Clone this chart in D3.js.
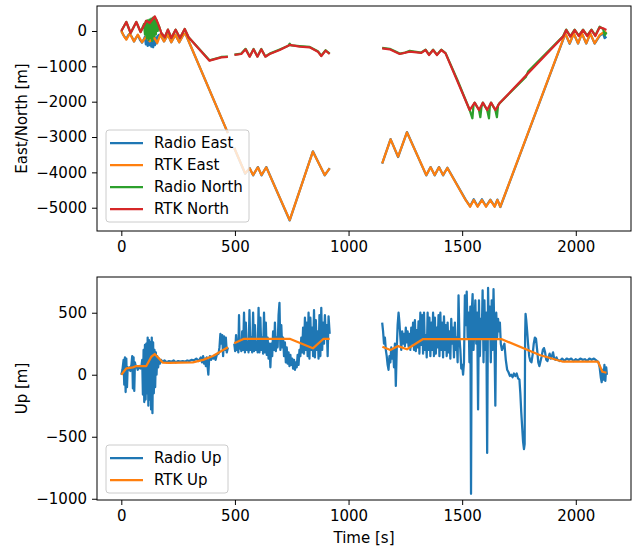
<!DOCTYPE html>
<html>
<head>
<meta charset="utf-8">
<script src="https://cdn.jsdelivr.net/npm/d3@7"></script>
<style>
body { margin: 0; background: #fff; }
svg { font-family: "DejaVu Sans", sans-serif; }
</style>
</head>
<body>
<div></div>
<script>
var width = 643;
var height = 549;

// time ticks and value ticks
var timeTicks = [0, 500, 1000, 1500, 2000];
var enTicks = [-5000, -4000, -3000, -2000, -1000, 0];
var upTicks = [-1000, -500, 0, 500];

// [time s, metres]; null = no data
var rtkEast = [[0,0],[12,-150],[22,-245],[37,-76],[56,-293],[73,-104],[91,-320],[110,-150],[125,-293],[144,-180],[158,-340],[172,-104],[188,-293],[205,-104],[220,-320],[238,-104],[255,-320],[273,-104],[282,-70],[469,-2890],null,
	[497,-3310],[545,-4030],[565,-3887],[580,-4075],[601,-3858],[617,-4075],[638,-3858],[741,-5349],[843,-3415],[895,-4075],[917,-3887],null,
	[1148,-3745],[1185,-3066],[1218,-3556],[1257,-2868],[1342,-4075],[1361,-3858],[1379,-4075],[1398,-3858],[1416,-4075],[1435,-3877],[1515,-4780],[1535,-4972],[1551,-4783],[1568,-4972],[1587,-4783],[1605,-4972],[1624,-4783],[1643,-4972],[1655,-4783],[1668,-4972],[1954,-66],[1973,-349],[1991,-66],[2010,-349],[2027,-66],[2046,-349],[2064,-66],[2083,-349],[2105,-113],[2127,-19],[2135,-60]];

var radioEast = [[0,0],[8,-100],[15,-170],[22,-230],[30,-120],[37,-80],[46,-160],[56,-300],[64,-200],[73,-110],[82,-250],[91,-330],[98,-250],[104,-160],[108,-380],[112,-200],[116,-420],[120,-180],[124,-400],[128,-150],[132,-440],[136,-200],[140,-460],[144,-250],[148,-400],[152,-180],[156,-350],[160,-150],[166,-110],[172,-104],[188,-293],[205,-104],[220,-320],[238,-104],[255,-320],[273,-104],[282,-70],[469,-2890],null,
	[497,-3310],[545,-4040],[565,-3880],[580,-4085],[601,-3850],[617,-4085],[638,-3850],[741,-5360],[843,-3405],[895,-4085],[917,-3880],null,
	[1148,-3755],[1185,-3060],[1218,-3566],[1257,-2860],[1342,-4085],[1361,-3850],[1379,-4085],[1398,-3850],[1416,-4085],[1435,-3870],[1515,-4770],[1535,-4960],[1551,-4760],[1568,-4960],[1587,-4760],[1605,-4960],[1624,-4770],[1643,-4960],[1655,-4770],[1668,-4980],[1954,-80],[1973,-360],[1991,-70],[2010,-355],[2027,-70],[2046,-355],[2064,-75],[2083,-355],[2105,-140],[2120,-60],[2127,-200],[2135,-160]];

var rtkNorth = [[0,0],[22,255],[41,-57],[66,255],[85,-28],[110,292],[125,226],[147,415],[161,226],[176,-57],[191,-179],[205,38],[220,-198],[239,38],[258,-198],[279,57],[296,-179],[388,-840],[440,-745],[469,-735],null,
	[498,-679],[528,-651],[547,-519],[565,-727],[582,-519],[599,-727],[616,-519],[634,-727],[653,-651],[697,-538],[741,-396],[785,-443],[829,-462],[865,-585],[880,-708],[899,-556],[917,-651],null,
	[1148,-490],[1181,-519],[1225,-651],[1269,-585],[1320,-620],[1339,-538],[1354,-679],[1372,-538],[1389,-679],[1408,-538],[1427,-632],[1533,-2236],[1555,-2028],[1574,-2236],[1591,-2028],[1610,-2236],[1627,-2028],[1646,-2236],[1664,-2047],[1944,-160],[1958,28],[1976,-160],[1995,28],[2013,-141],[2032,28],[2050,-141],[2069,28],[2086,-141],[2105,104],[2120,76],[2135,28]];

var radioNorth = [[0,0],[22,255],[41,-57],[66,255],[85,-28],[100,200],[104,-100],[108,280],[112,-200],[116,300],[120,-250],[124,320],[128,-200],[132,350],[136,-280],[140,380],[144,-150],[148,400],[152,-100],[156,300],[160,0],[165,150],[176,-57],[191,-179],[205,38],[220,-198],[239,38],[258,-198],[279,57],[296,-179],[388,-830],[440,-735],[469,-725],null,
	[498,-670],[528,-640],[547,-505],[565,-720],[582,-510],[599,-720],[616,-510],[634,-720],[653,-640],[697,-525],[735,-420],[741,-360],[748,-410],[785,-430],[829,-450],[865,-575],[880,-700],[899,-545],[917,-640],null,
	[1148,-480],[1181,-505],[1200,-560],[1225,-640],[1250,-610],[1269,-560],[1320,-610],[1339,-530],[1354,-670],[1372,-530],[1389,-670],[1408,-530],[1427,-625],[1480,-1400],[1533,-2236],[1545,-2470],[1550,-2100],[1555,-2028],[1574,-2236],[1580,-2440],[1585,-2150],[1591,-2028],[1610,-2236],[1618,-2470],[1622,-2120],[1627,-2028],[1646,-2236],[1653,-2440],[1658,-2100],[1664,-2047],[1780,-1300],[1790,-1150],[1944,-150],[1958,40],[1976,-150],[1995,40],[2013,-130],[2032,40],[2050,-130],[2069,40],[2086,-130],[2105,120],[2120,60],[2128,-120],[2135,-40]];

var rtkUp = [[0,0],[22,51],[51,59],[66,70],[110,70],[132,145],[147,167],[169,124],[183,97],[210,95],[260,97],[315,100],[360,120],[403,151],[469,221],null,
	[497,253],[540,290],[741,290],[843,213],[890,290],[917,290],null,
	[1149,226],[1184,199],[1218,231],[1257,205],[1328,288],[1672,288],[1841,159],[1944,105],[2098,105],[2117,24],[2135,16]];

var radioUp = [[0,0],[5,40],[10,120],[13,-80],[16,140],[19,-140],[22,130],[25,-100],[28,60],[32,40],[36,60],[40,30],[44,70],[48,150],[51,-110],[54,140],[57,-130],[60,100],[64,60],[68,70],[72,40],[76,60],[80,70],[84,50],[88,60],[92,120],[95,-160],[98,200],[101,-220],[104,240],[107,-200],[110,250],[113,-150],[116,300],[119,-250],[122,280],[125,-200],[128,260],[131,-280],[134,300],[137,-310],[140,260],[143,-150],[146,200],[149,-100],[152,180],[155,0],[158,150],[162,60],[166,130],[170,90],[175,120],[180,105],[190,115],[200,100],[210,110],[220,105],[230,115],[240,100],[250,110],[260,105],[270,110],[280,105],[290,115],[300,110],[310,120],[320,115],[330,130],[340,110],[350,140],[355,100],[360,150],[364,90],[368,130],[372,70],[376,140],[380,60],[383,0],[386,110],[390,150],[395,120],[400,140],[405,130],[410,150],[415,120],[420,160],[428,170],[432,220],[436,330],[440,250],[444,320],[448,150],[452,310],[456,200],[460,300],[464,180],[469,220],null,
	[497,250],[501,190],[505,320],[509,200],[512,280],[515,180],[518,480],[521,210],[524,260],[528,190],[532,350],[536,200],[540,500],[544,180],[548,420],[552,200],[556,260],[560,180],[564,520],[568,200],[572,300],[576,180],[580,500],[584,190],[588,400],[592,200],[596,260],[600,180],[604,540],[608,180],[612,460],[616,200],[620,300],[624,170],[628,500],[632,180],[636,420],[640,160],[644,300],[648,130],[652,250],[656,60],[660,250],[664,150],[668,350],[672,200],[676,420],[680,190],[684,300],[688,220],[692,480],[696,580],[700,200],[704,400],[708,220],[712,300],[716,150],[720,260],[724,100],[728,220],[732,90],[736,180],[740,70],[744,160],[748,80],[752,130],[756,50],[760,120],[764,40],[768,100],[772,60],[776,160],[780,80],[784,200],[788,150],[792,300],[796,180],[800,380],[804,170],[808,460],[812,200],[816,420],[820,150],[824,500],[828,130],[832,460],[836,200],[840,380],[844,150],[848,520],[852,140],[856,440],[860,200],[864,350],[868,130],[872,480],[876,150],[880,540],[884,200],[888,420],[892,250],[896,480],[900,300],[904,400],[908,150],[912,470],[917,330],null,
	[1148,420],[1152,350],[1156,250],[1160,300],[1164,200],[1168,150],[1172,80],[1176,40],[1180,150],[1184,100],[1188,220],[1192,130],[1196,200],[1200,60],[1204,250],[1208,-90],[1212,200],[1216,400],[1220,500],[1224,420],[1228,300],[1232,200],[1236,350],[1240,250],[1244,330],[1248,230],[1252,380],[1256,260],[1260,350],[1264,230],[1268,330],[1272,200],[1276,380],[1280,250],[1284,420],[1288,200],[1292,440],[1296,190],[1300,360],[1304,220],[1308,430],[1312,170],[1316,500],[1320,240],[1324,480],[1328,170],[1332,500],[1336,200],[1340,320],[1344,140],[1348,500],[1352,200],[1356,460],[1360,150],[1364,420],[1368,200],[1372,500],[1376,150],[1380,460],[1384,170],[1388,380],[1392,220],[1396,480],[1400,150],[1404,500],[1408,200],[1412,420],[1416,140],[1420,470],[1424,200],[1428,400],[1432,150],[1436,420],[1440,180],[1444,350],[1448,130],[1452,450],[1456,250],[1460,380],[1464,140],[1468,420],[1472,200],[1476,300],[1480,100],[1484,640],[1488,300],[1492,200],[1496,50],[1500,80],[1504,0],[1508,100],[1512,640],[1516,400],[1520,670],[1524,300],[1528,500],[1532,100],[1536,550],[1539,-960],[1542,500],[1546,650],[1550,200],[1554,400],[1558,600],[1562,250],[1566,500],[1570,-280],[1574,600],[1578,150],[1582,450],[1586,300],[1590,680],[1594,100],[1598,600],[1602,200],[1606,500],[1610,-630],[1614,700],[1618,300],[1622,550],[1626,100],[1630,600],[1634,200],[1638,690],[1642,300],[1646,-250],[1650,500],[1654,300],[1658,450],[1662,350],[1666,420],[1670,250],[1675,200],[1680,220],[1686,250],[1692,120],[1698,40],[1704,20],[1710,-10],[1716,0],[1722,-20],[1728,10],[1734,-10],[1740,10],[1746,-30],[1752,-40],[1756,-150],[1760,-300],[1764,-420],[1768,-540],[1772,-600],[1775,-560],[1777,300],[1779,490],[1782,440],[1786,350],[1790,250],[1795,150],[1800,110],[1805,100],[1810,160],[1815,250],[1820,300],[1825,290],[1830,200],[1835,100],[1840,70],[1845,110],[1850,150],[1855,200],[1860,215],[1865,180],[1870,120],[1875,110],[1880,140],[1885,170],[1890,130],[1895,150],[1900,180],[1905,130],[1910,120],[1915,140],[1920,120],[1930,110],[1940,130],[1950,110],[1960,130],[1970,120],[1980,130],[1990,110],[2000,125],[2010,115],[2020,130],[2030,120],[2040,125],[2050,110],[2060,130],[2070,120],[2080,130],[2090,115],[2100,100],[2105,60],[2110,-20],[2114,-60],[2118,40],[2122,-40],[2126,80],[2130,-50],[2134,60],[2137,0]];

var blue = "#1f77b4", orange = "#ff7f0e", green = "#2ca02c", red = "#d62728";

var svg = d3.select("div")
	.append("svg")
	.attr("width", width)
	.attr("height", height);

var left = 97, right = 631;

var x = d3.scaleLinear().domain([-107, 2243]).range([left, right]);

function panel(top, bottom, domain, ticks, label, series, legendBox, showXLabel, id) {
	var y = d3.scaleLinear().domain(domain).range([bottom, top]);

	svg.append("clipPath").attr("id", id)
		.append("rect").attr("x", left).attr("y", top).attr("width", right - left).attr("height", bottom - top);

	var line = d3.line()
		.defined(d => d !== null)
		.x(d => x(d[0]))
		.y(d => y(d[1]));

	var g = svg.append("g").attr("clip-path", "url(#" + id + ")");
	series.forEach(s => {
		g.append("path")
			.attr("d", line(s.data))
			.attr("fill", "none")
			.attr("stroke", s.color)
			.attr("stroke-width", 2.25)
			.attr("stroke-linejoin", "round");
	});

	var xAxis = svg.append("g")
		.attr("transform", "translate(0," + bottom + ")")
		.call(d3.axisBottom(x).tickValues(timeTicks).tickSize(5).tickPadding(5).tickFormat(d3.format("d")));
	var yAxis = svg.append("g")
		.attr("transform", "translate(" + left + ",0)")
		.call(d3.axisLeft(y).tickValues(ticks).tickSize(5).tickPadding(5).tickFormat(d3.format("d")));

	[xAxis, yAxis].forEach(a => {
		a.select(".domain").remove();
		a.selectAll("line").attr("stroke", "#000").attr("stroke-width", 1);
		a.selectAll("text").attr("font-size", 15).attr("fill", "#000").attr("font-family", "DejaVu Sans");
	});

	svg.append("rect")
		.attr("x", left).attr("y", top)
		.attr("width", right - left).attr("height", bottom - top)
		.attr("fill", "none").attr("stroke", "#000").attr("stroke-width", 1);

	svg.append("text")
		.attr("transform", "translate(22," + ((top + bottom) / 2) + ") rotate(-90)")
		.attr("text-anchor", "middle")
		.attr("dy", "0.35em")
		.attr("font-size", 15)
		.text(label);

	if (showXLabel) {
		svg.append("text")
			.attr("x", (left + right) / 2)
			.attr("y", 538)
			.attr("dy", "0.35em")
			.attr("text-anchor", "middle")
			.attr("font-size", 15)
			.text("Time [s]");
	}

	// legend
	var lg = svg.append("g");
	lg.append("rect")
		.attr("x", legendBox[0]).attr("y", legendBox[1])
		.attr("width", legendBox[2]).attr("height", legendBox[3])
		.attr("rx", 3)
		.attr("fill", "#fff").attr("fill-opacity", 0.8)
		.attr("stroke", "#cccccc").attr("stroke-width", 1);
	series.forEach((s, i) => {
		var yy = legendBox[1] + 13 + i * 22;
		lg.append("line")
			.attr("x1", legendBox[0] + 4).attr("x2", legendBox[0] + 37)
			.attr("y1", yy).attr("y2", yy)
			.attr("stroke", s.color).attr("stroke-width", 2.25);
		lg.append("text")
			.attr("x", legendBox[0] + 48)
			.attr("y", yy)
			.attr("dy", "0.35em")
			.attr("font-size", 15)
			.text(s.name);
	});
}

panel(6, 231, [-5659, 707], enTicks, "East/North [m]", [
	{ name: "Radio East", data: radioEast, color: blue },
	{ name: "RTK East", data: rtkEast, color: orange },
	{ name: "Radio North", data: radioNorth, color: green },
	{ name: "RTK North", data: rtkNorth, color: red }
], [106, 130, 143, 92], false, "clipTop");

panel(277, 500, [-1010, 788], upTicks, "Up [m]", [
	{ name: "Radio Up", data: radioUp, color: blue },
	{ name: "RTK Up", data: rtkUp, color: orange }
], [106, 445, 122, 48], true, "clipBottom");
</script>
</body>
</html>
